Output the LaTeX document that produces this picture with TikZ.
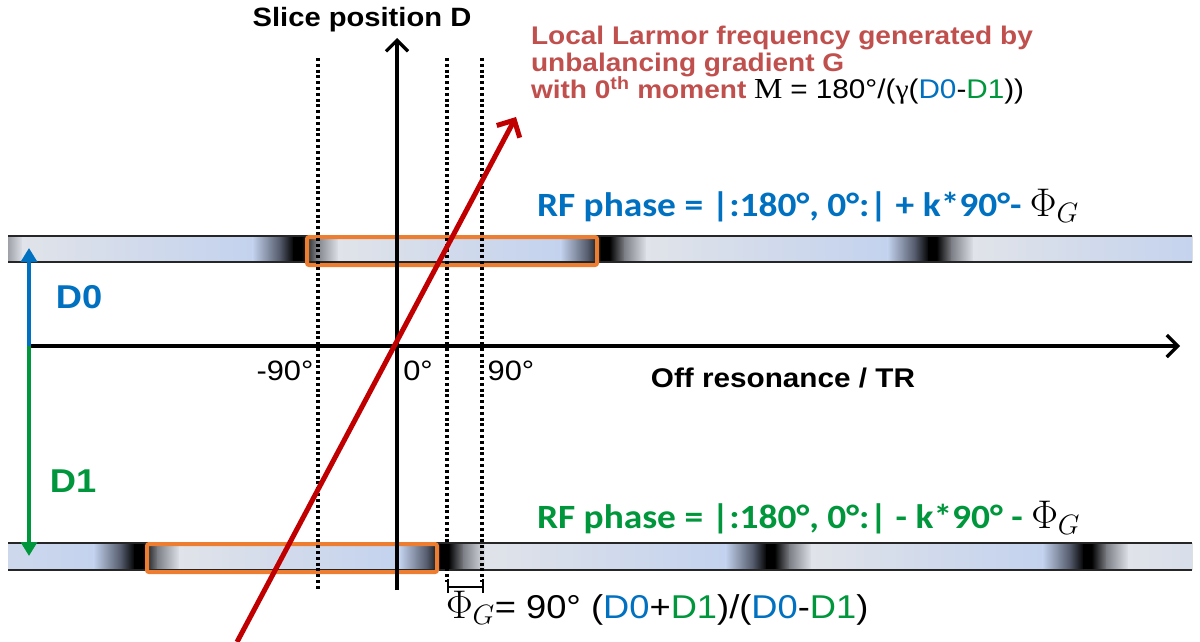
\RequirePackage{fix-cm}
\documentclass[tikz,border=0pt]{standalone}
\usepackage{fontspec}
\setmainfont[FakeStretch=1.1]{Liberation Sans}
\newfontfamily\calib[FakeStretch=1.1]{Carlito}
\newfontfamily\tms[FakeStretch=1.1]{Liberation Serif}
\usetikzlibrary{arrows.meta}
\definecolor{blueC}{RGB}{0,112,192}
\definecolor{greenC}{RGB}{0,150,60}
\definecolor{redT}{RGB}{192,80,77}
\definecolor{redL}{RGB}{192,0,0}
\definecolor{orangeC}{RGB}{237,125,49}
\definecolor{bandGray}{RGB}{224,227,233}
\definecolor{bandBlue}{RGB}{195,210,238}
\definecolor{bandDark}{RGB}{80,86,102}
\definecolor{bandMid}{RGB}{125,128,134}
\newcommand{\fsz}[1]{\fontsize{#1}{#1}\selectfont}
\newcommand{\bandseg}[4]{%
  \fill[black] (#3-4,#1) rectangle (#3+5,#2);
  \fill[left color=black,right color=bandMid] (#3+4.5,#1) rectangle (#3+20,#2);
  \fill[left color=bandMid,right color=bandGray] (#3+19.5,#1) rectangle (#3+42,#2);
  \fill[left color=bandGray,right color=bandBlue] (#3+41.5,#1) rectangle (#4-44,#2);
  \fill[left color=bandBlue,right color=bandDark] (#4-44.5,#1) rectangle (#4-16,#2);
  \fill[left color=bandDark,right color=black] (#4-16.5,#1) rectangle (#4-3,#2);
}
\tikzset{
  txt/.style={inner sep=0pt, outer sep=0pt},
  dotline/.style={line width=4pt, dash pattern=on 3pt off 2.8pt},
  axisline/.style={line width=3.2pt, -{Straight Barb[length=11pt,width=22pt]}},
  redarrow/.style={line width=5pt, redL, -{Straight Barb[length=13pt,width=26pt]}},
  dimarrow/.style={line width=4pt, -{Triangle[length=14pt,width=16pt]}},
  hilite/.style={draw=orangeC, line width=4pt, rounded corners=2pt},
  bandedge/.style={line width=1.5pt, black!85},
}
\begin{document}
\begin{tikzpicture}[x=1pt,y=-1pt]
\useasboundingbox (0,0) rectangle (1200,642);
% bands
\begin{scope}
  \clip (8,236) rectangle (1192,262);
  \foreach \a/\b in {-19/297, 297/605, 605/932, 932/1250} {\bandseg{236}{262}{\a}{\b}}
\end{scope}
\begin{scope}
  \clip (8,543) rectangle (1192,570);
  \foreach \a/\b in {-178/138, 138/444, 444/770, 770/1087, 1087/1400} {\bandseg{543}{570}{\a}{\b}}
\end{scope}
\draw[bandedge] (8,236) -- (1192,236) (8,262) -- (1192,262);
\draw[bandedge] (8,543) -- (1192,543) (8,570) -- (1192,570);
% highlight boxes
\node[hilite, minimum width=290pt, minimum height=28pt, inner sep=0pt, anchor=north west] (boxtop) at (305,235) {};
\node[hilite, minimum width=290pt, minimum height=28pt, inner sep=0pt, anchor=north west] (boxbot) at (145,542) {};
% dotted lines
\coordinate (dA0) at (318,58); \coordinate (dA1) at (318,590);
\coordinate (dB0) at (447,58); \coordinate (dB1) at (447,582);
\coordinate (dC0) at (482,58); \coordinate (dC1) at (482,582);
\draw[dotline] (dA0) -- (dA1);
\draw[dotline] (dB0) -- (dB1);
\draw[dotline] (dC0) -- (dC1);
% bracket
\coordinate (br0) at (448,587); \coordinate (br1) at (483,587);
\draw[line width=2pt] (br0) -- (br1);
\draw[line width=2pt] (448,579) -- (448,593) (483,579) -- (483,593);
% axes
\coordinate (hx0) at (30,346); \coordinate (hx1) at (1180,346);
\draw[axisline] (hx0) -- (hx1);
\coordinate (vy0) at (397,590); \coordinate (vy1) at (397,38);
\draw[axisline] (vy0) -- (vy1);
% D0 / D1 arrows
\coordinate (dm) at (29,346); \coordinate (dt) at (29,248); \coordinate (db) at (29,556);
\draw[dimarrow, blueC] (dm) -- (dt);
\draw[dimarrow, greenC] (dm) -- (db);
% red gradient line
\coordinate (r0) at (237,642); \coordinate (r1) at (516,117);
\draw[redarrow] (r0) -- (r1);
% labels
\node[txt, anchor=base] (slice) at (362,27) {\fsz{26.5}\bfseries Slice position D};
\node[txt, anchor=base] (offres) at (783,387) {\fsz{27}\bfseries Off resonance / TR};
\node[txt, anchor=base] (m90) at (285,380) {\fsz{28}-90°};
\node[txt, anchor=base] (z0) at (418,380) {\fsz{28}0°};
\node[txt, anchor=base] (p90) at (511,380) {\fsz{28}90°};
\node[txt, anchor=base, text=blueC] (d0) at (79,308) {\fsz{33}\bfseries D0};
\node[txt, anchor=base, text=greenC] (d1) at (73,492) {\fsz{33}\bfseries D1};
\node[txt, anchor=base west, text=redT] (l1) at (531,45) {\fsz{25.5}\bfseries Local Larmor frequency generated by};
\node[txt, anchor=base west, text=redT] (l2) at (531,72) {\fsz{25.5}\bfseries unbalancing gradient G};
\node[txt, anchor=base west] (l3) at (531,99) {\fsz{25.5}{\bfseries\color{redT}with 0\textsuperscript{th} moment }{\tms\fsz{29}M} {\fsz{27}= 180°/({\tms γ}(\textcolor{blueC}{D0}-\textcolor{greenC}{D1}))}};
\node[txt, anchor=base west, text=blueC] (rfb) at (537,216) {\calib\fsz{34}\bfseries RF phase = |:180°, 0°:| + k*90°- {\color{black}\fsz{40}$\Phi_G$}};
\node[txt, anchor=base west, text=greenC] (rfg) at (537,528) {\calib\fsz{34}\bfseries RF phase = |:180°, 0°:| - k*90° - {\color{black}\fsz{40}$\Phi_G$}};
\node[txt, anchor=base west] (phig) at (446,618) {{\fsz{40}$\Phi_G$}\fsz{33}= 90° (\textcolor{blueC}{D0}+\textcolor{greenC}{D1})/(\textcolor{blueC}{D0}-\textcolor{greenC}{D1})};
\end{tikzpicture}
\end{document}
